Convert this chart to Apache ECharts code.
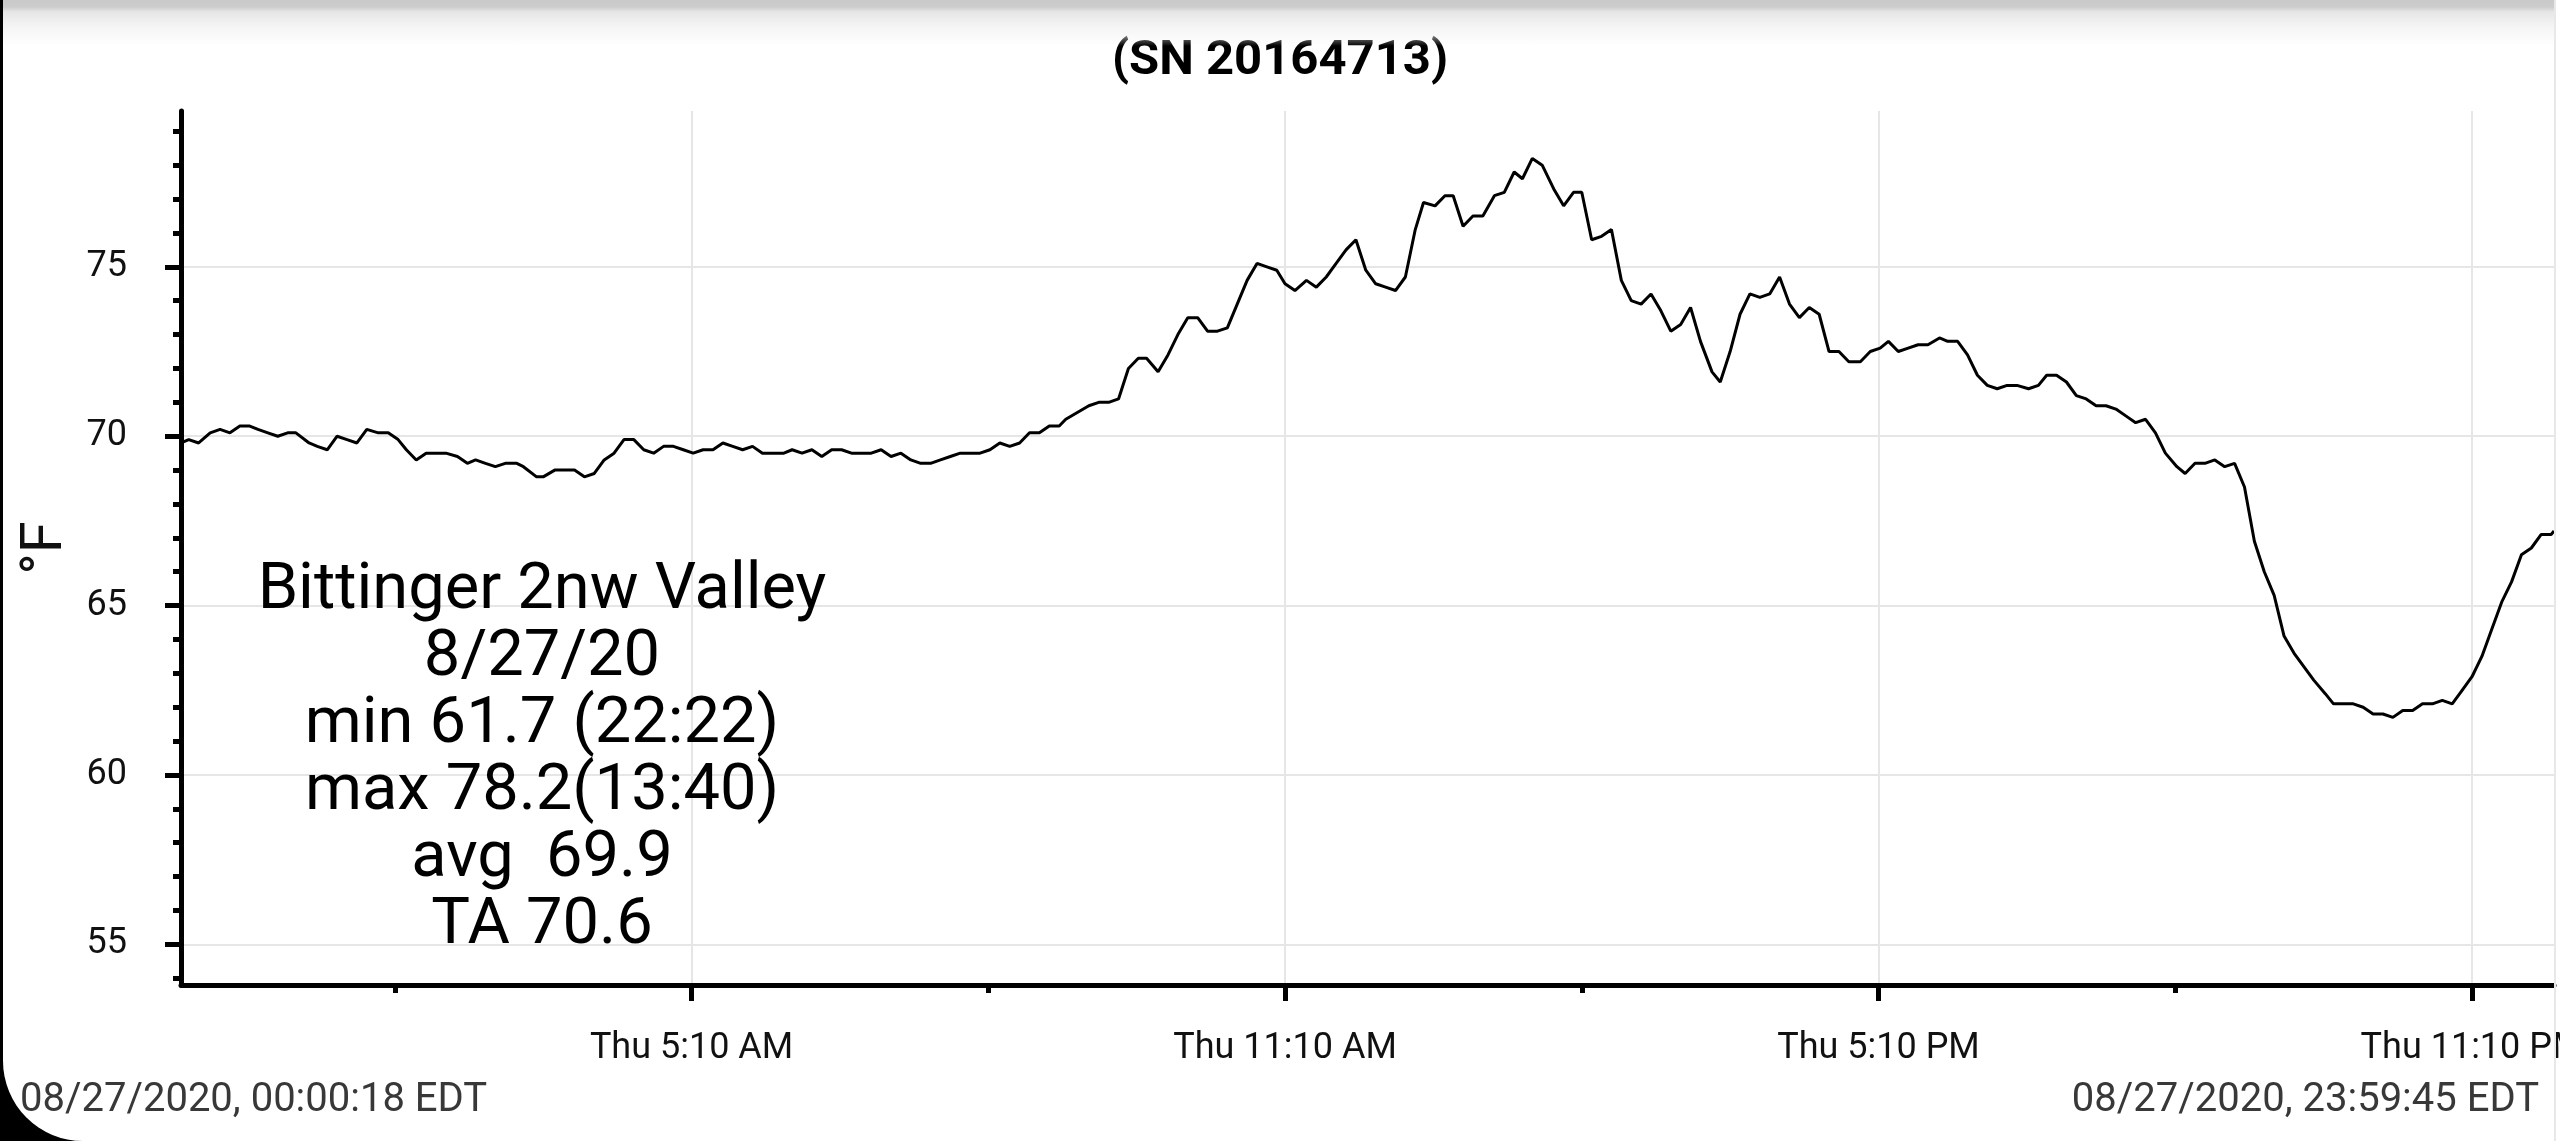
<!DOCTYPE html>
<html lang="en">
<head>
    <meta charset="UTF-8">
    <title>SN 20164713</title>
    <script src="https://cdn.jsdelivr.net/npm/echarts@6/dist/echarts.min.js"></script>
    <style>
        html, body { margin: 0; padding: 0; background: #000; width: 2560px; height: 1141px; overflow: hidden; }
        #panel { position: absolute; left: 3px; top: 0; width: 2557px; height: 1141px; background: #fff; border-bottom-left-radius: 80px; }
        #chart { position: absolute; left: 0; top: 0; width: 2560px; height: 1141px; }
        #shade { position: absolute; left: 3px; top: 0; width: 2551px; height: 46px; pointer-events: none;
                 background: linear-gradient(#c9c9c9 0px, #cdcdcd 7px, #e6e6e6 12px, #f4f4f4 26px, rgba(255,255,255,0) 46px); }
        #edge { position: absolute; left: 2554px; top: 0; width: 2px; height: 1141px; background: #e8e8e8; pointer-events: none; }
    </style>
</head>
<body>
<div id="panel"></div>
<div id="chart"></div>
<div id="shade"></div>
<div id="edge"></div>
<script type="text/javascript">
    // minutes after midnight, 08/27/2020 (EDT)
    var minutes = [
        0.3, 5, 11, 18, 24, 30, 36, 42, 47, 53, 59, 65, 70, 78, 83, 89, 95, 101, 107, 113,
        120, 126, 132, 137, 143, 149, 155, 161, 168, 174, 179, 185, 191, 197, 204, 208, 216, 220, 227, 233,
        239, 245, 251, 257, 263, 269, 275, 281, 287, 293, 299, 305, 311, 317, 323, 329, 335, 341, 347, 353,
        360, 366, 371, 377, 383, 389, 395, 401, 407, 413, 419, 425, 431, 437, 443, 449, 455, 461, 467, 473,
        479, 485, 491, 497, 503, 509, 515, 521, 527, 533, 537, 544, 551, 557, 563, 569, 575, 581, 586, 593,
        599, 605, 611, 617, 623, 629, 635, 641, 647, 653, 659, 665, 670, 676, 683, 689, 695, 701, 707, 713,
        719, 725, 731, 737, 743, 749, 754, 761, 767, 772, 778, 784, 790, 797, 803, 809, 814, 820, 826, 833,
        839, 845, 850, 856, 862, 868, 874, 880, 886, 892, 898, 904, 910, 916, 922, 929, 934, 940, 946, 952,
        958, 964, 970, 976, 982, 988, 994, 1000, 1006, 1012, 1019, 1025, 1031, 1036, 1042, 1048, 1054, 1060, 1067, 1072,
        1078, 1084, 1090, 1096, 1102, 1108, 1114, 1121, 1127, 1132, 1138, 1144, 1150, 1156, 1162, 1168, 1174, 1180, 1186, 1192,
        1198, 1204, 1211, 1216, 1222, 1228, 1234, 1240, 1246, 1252, 1258, 1264, 1270, 1276, 1282, 1288, 1294, 1301, 1306, 1312,
        1318, 1324, 1330, 1336, 1342, 1348, 1354, 1360, 1366, 1372, 1378, 1384, 1390, 1396, 1402, 1408, 1414, 1420, 1426, 1432,
        1438, 1439.75
    ];
    var tempF = [
        69.8, 69.9, 69.8, 70.1, 70.2, 70.1, 70.3, 70.3, 70.2, 70.1, 70.0, 70.1, 70.1, 69.8, 69.7, 69.6, 70.0, 69.9, 69.8, 70.2,
        70.1, 70.1, 69.9, 69.6, 69.3, 69.5, 69.5, 69.5, 69.4, 69.2, 69.3, 69.2, 69.1, 69.2, 69.2, 69.1, 68.8, 68.8, 69.0, 69.0,
        69.0, 68.8, 68.9, 69.3, 69.5, 69.9, 69.9, 69.6, 69.5, 69.7, 69.7, 69.6, 69.5, 69.6, 69.6, 69.8, 69.7, 69.6, 69.7, 69.5,
        69.5, 69.5, 69.6, 69.5, 69.6, 69.4, 69.6, 69.6, 69.5, 69.5, 69.5, 69.6, 69.4, 69.5, 69.3, 69.2, 69.2, 69.3, 69.4, 69.5,
        69.5, 69.5, 69.6, 69.8, 69.7, 69.8, 70.1, 70.1, 70.3, 70.3, 70.5, 70.7, 70.9, 71.0, 71.0, 71.1, 72.0, 72.3, 72.3, 71.9,
        72.4, 73.0, 73.5, 73.5, 73.1, 73.1, 73.2, 73.9, 74.6, 75.1, 75.0, 74.9, 74.5, 74.3, 74.6, 74.4, 74.7, 75.1, 75.5, 75.8,
        74.9, 74.5, 74.4, 74.3, 74.7, 76.1, 76.9, 76.8, 77.1, 77.1, 76.2, 76.5, 76.5, 77.1, 77.2, 77.8, 77.6, 78.2, 78.0, 77.3,
        76.8, 77.2, 77.2, 75.8, 75.9, 76.1, 74.6, 74.0, 73.9, 74.2, 73.7, 73.1, 73.3, 73.8, 72.8, 71.9, 71.6, 72.5, 73.6, 74.2,
        74.1, 74.2, 74.7, 73.9, 73.5, 73.8, 73.6, 72.5, 72.5, 72.2, 72.2, 72.5, 72.6, 72.8, 72.5, 72.6, 72.7, 72.7, 72.9, 72.8,
        72.8, 72.4, 71.8, 71.5, 71.4, 71.5, 71.5, 71.4, 71.5, 71.8, 71.8, 71.6, 71.2, 71.1, 70.9, 70.9, 70.8, 70.6, 70.4, 70.5,
        70.1, 69.5, 69.1, 68.9, 69.2, 69.2, 69.3, 69.1, 69.2, 68.5, 66.9, 66.0, 65.3, 64.1, 63.6, 63.2, 62.8, 62.4, 62.1, 62.1,
        62.1, 62.0, 61.8, 61.8, 61.7, 61.9, 61.9, 62.1, 62.1, 62.2, 62.1, 62.5, 62.9, 63.5, 64.3, 65.1, 65.7, 66.5, 66.7, 67.1,
        67.1, 67.2
    ];

    var xMajor = [310, 670, 1030, 1390];
    var xMinor = [130, 490, 850, 1210];
    var xLabels = ['Thu 5:10 AM', 'Thu 11:10 AM', 'Thu 5:10 PM', 'Thu 11:10 PM'];
    var yMajor = [55, 60, 65, 70, 75];
    var yMinor = [54, 56, 57, 58, 59, 61, 62, 63, 64, 66, 67, 68, 69, 71, 72, 73, 74, 76, 77, 78, 79];

    var infoLines = ['Bittinger 2nw Valley', '8/27/20', 'min 61.7 (22:22)', 'max 78.2(13:40)', 'avg  69.9', 'TA 70.6'];
    var startText = '08/27/2020, 00:00:18 EDT';
    var endText = '08/27/2020, 23:59:45 EDT';

    var points = [];
    for (var i = 0; i < minutes.length; i++) {
        points.push([minutes[i], tempF[i]]);
    }

    var font = 'Roboto, "Noto Sans", sans-serif';
    var tickStyle = {color: '#000', width: 5};

    var myChart = echarts.init(document.getElementById('chart'));

    var option = {
        animation: false,
        // no auto shrinking: the last x label is allowed to run off the right edge
        grid: {left: 181, right: 6, top: 111, bottom: 156, containLabel: false, outerBoundsMode: 'none'},
        xAxis: [
            {
                type: 'value', min: minutes[0], max: minutes[minutes.length - 1], position: 'bottom',
                axisLine: {show: true, onZero: false, lineStyle: {color: '#000', width: 5}},
                axisTick: {show: true, customValues: xMajor, length: 16, lineStyle: tickStyle},
                axisLabel: {
                    customValues: xMajor, margin: 46, fontSize: 36, color: '#111', fontFamily: font,
                    formatter: function (v) {
                        var k = xMajor.indexOf(v);
                        return k >= 0 ? xLabels[k] : '';
                    }
                },
                splitLine: {show: true, lineStyle: {color: '#e6e6e6', width: 2}}
            },
            {
                type: 'value', min: minutes[0], max: minutes[minutes.length - 1], position: 'bottom',
                axisLine: {show: false, onZero: false},
                axisTick: {show: true, customValues: xMinor, length: 8, lineStyle: tickStyle},
                axisLabel: {show: false},
                splitLine: {show: false}
            }
        ],
        yAxis: [
            {
                type: 'value', min: 53.8, max: 79.6, position: 'left',
                name: '°F', nameLocation: 'middle', nameRotate: 90, nameGap: 106,
                nameTextStyle: {fontSize: 58, color: '#111', fontFamily: font},
                axisLine: {show: true, onZero: false, lineStyle: {color: '#000', width: 5}},
                axisTick: {show: true, customValues: yMajor, length: 16, lineStyle: tickStyle},
                axisLabel: {customValues: yMajor, margin: 54, fontSize: 36, color: '#111', fontFamily: font},
                splitLine: {show: true, lineStyle: {color: '#e6e6e6', width: 2}}
            },
            {
                type: 'value', min: 53.8, max: 79.6, position: 'left',
                axisLine: {show: false, onZero: false},
                axisTick: {show: true, customValues: yMinor, length: 8, lineStyle: tickStyle},
                axisLabel: {show: false},
                splitLine: {show: false}
            }
        ],
        graphic: [
            {
                type: 'text', x: 1280, y: 62, z: 10,
                style: {text: '(SN 20164713)', textAlign: 'center', textVerticalAlign: 'middle',
                        fontSize: 49, fontWeight: 'bold', fontFamily: font, fill: '#000'}
            },
            {
                type: 'text', x: 542, y: 759, z: 10,
                style: {text: infoLines.join('\n'), textAlign: 'center', textVerticalAlign: 'middle',
                        fontSize: 65, lineHeight: 67, fontFamily: font, fill: '#000'}
            },
            {
                type: 'text', x: 20, y: 1101, z: 10,
                style: {text: startText, textAlign: 'left', textVerticalAlign: 'middle',
                        fontSize: 40, fontFamily: font, fill: '#383838'}
            },
            {
                type: 'text', x: 2539, y: 1101, z: 10,
                style: {text: endText, textAlign: 'right', textVerticalAlign: 'middle',
                        fontSize: 40, fontFamily: font, fill: '#383838'}
            }
        ],
        series: [
            {
                name: '°F',
                type: 'line',
                xAxisIndex: 0,
                yAxisIndex: 0,
                data: points,
                showSymbol: false,
                symbol: 'none',
                lineStyle: {color: '#000', width: 3},
                silent: true
            }
        ]
    };
    myChart.setOption(option);
</script>
</body>
</html>
